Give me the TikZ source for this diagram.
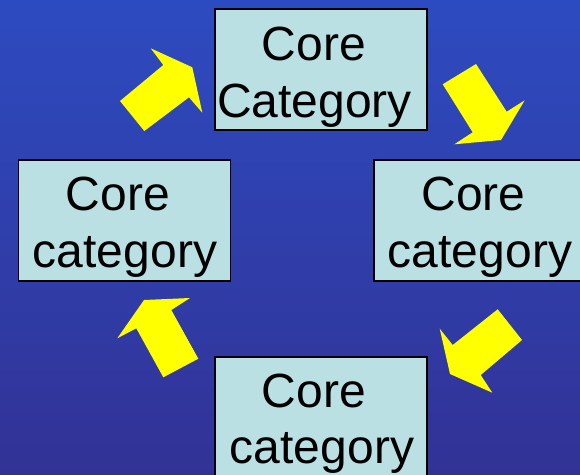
\documentclass[tikz,border=0pt]{standalone}
\usepackage{fontspec}
\setmainfont{Liberation Sans}
\definecolor{bgtop}{RGB}{45,75,192}
\definecolor{bgbottom}{RGB}{50,50,150}
\definecolor{boxfill}{RGB}{187,224,227}
\definecolor{arrowyellow}{RGB}{255,255,0}
\tikzset{
  catbox/.style={draw=black, line width=1.6pt, fill=boxfill, rectangle,
    minimum width=212pt, minimum height=121pt, inner sep=0pt},
  cattext/.style={anchor=base, inner sep=0pt, font=\fontsize{48}{57}\selectfont},
  blockarrow/.style={fill=arrowyellow, draw=none}
}
\begin{document}
\begin{tikzpicture}[x=1pt, y=-1pt]
  \useasboundingbox (0,0) rectangle (580,474);
  \shade[top color=bgtop, bottom color=bgbottom] (0,0) rectangle (580,474);
  \clip (0,0) rectangle (580,474);

  % category boxes
  \node[catbox] (top)    at (321,69.5)  {};
  \node[catbox] (left)   at (124.5,220.5) {};
  \node[catbox] (right)  at (480,220.5) {};
  \node[catbox] (bottom) at (321,417.5) {};

  % box labels
  \node[cattext] (top1)    at (314,60)  {Core};
  \node[cattext] (top2)    at (314.5,117) {Category};
  \node[cattext] (left1)   at (118,210) {Core};
  \node[cattext] (left2)   at (125,267) {category};
  \node[cattext] (right1)  at (473.5,210) {Core};
  \node[cattext] (right2)  at (480,267) {category};
  \node[cattext] (bottom1) at (314,407) {Core};
  \node[cattext] (bottom2) at (322,463) {category};

  % block arrows running round the cycle
  \fill[blockarrow] (120,101) -- (163.3,65) -- (150.7,48.3) -- (192.3,67.3)
    -- (202.3,112.7) -- (189,97.3) -- (144.3,131) -- cycle;
  \fill[blockarrow] (442.7,84.3) -- (476,64) -- (506.7,111.7) -- (524.7,100.3)
    -- (501,140) -- (454.3,144.3) -- (472.7,132.3) -- cycle;
  \fill[blockarrow] (497.7,309.3) -- (522,340) -- (480.7,375) -- (492.3,392.7)
    -- (450,374) -- (439.7,328.7) -- (452.7,345) -- cycle;
  \fill[blockarrow] (198.3,358.7) -- (163.3,377.3) -- (136.3,328.3) -- (117.3,338.3)
    -- (144,300) -- (190,298) -- (171.3,310) -- cycle;
\end{tikzpicture}
\end{document}
